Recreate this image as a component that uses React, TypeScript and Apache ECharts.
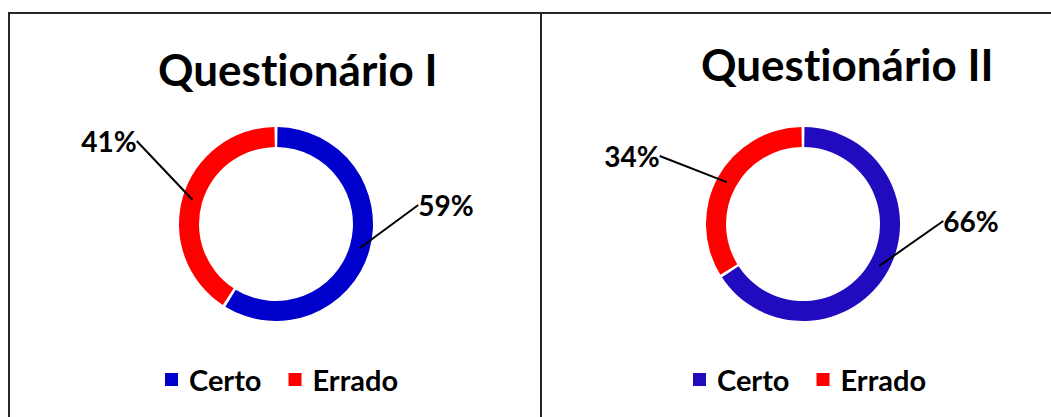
import React, { useEffect, useRef } from "react";
import * as echarts from "echarts";

const categories = ["Certo", "Errado"];
const titles = ["Questionário I", "Questionário II"];
const valuesI = [59, 41];
const valuesII = [66, 34];
const colorsI = ["#0000CC", "#FF0000"];
const colorsII = ["#200CBE", "#FF0000"];

const FONT = "Lato";
const centers = [
  [276, 224],
  [803, 224],
];
// label anchor positions (layout only)
const labelPos = [
  [
    [446, 205],
    [109, 141],
  ],
  [
    [971, 221],
    [632, 156],
  ],
];

export default function App() {
  const ref = useRef<HTMLDivElement>(null);
  useEffect(() => {
    const chart = echarts.init(ref.current!, null, { renderer: "svg" });
    const sets = [
      { values: valuesI, colors: colorsI },
      { values: valuesII, colors: colorsII },
    ];
    const series: any[] = [];
    sets.forEach((s, i) => {
      const data = categories.map((c, k) => ({
        name: c,
        value: s.values[k],
        itemStyle: { color: s.colors[k] },
      }));
      series.push({
        type: "pie",
        center: centers[i],
        radius: [77, 97],
        startAngle: 90,
        clockwise: true,
        padAngle: 1.8,
        silent: true,
        z: 2,
        label: { show: false },
        labelLine: { show: false },
        data,
      });
      series.push({
        type: "pie",
        center: centers[i],
        radius: [0, 87],
        startAngle: 90,
        clockwise: true,
        silent: true,
        z: 5,
        itemStyle: { color: "rgba(0,0,0,0)" },
        label: {
          show: true,
          position: "outside",
          formatter: "{c}%",
          fontFamily: FONT,
          fontWeight: "bold",
          fontSize: 28,
          color: "#000",
        },
        labelLine: {
          show: true,
          length: 10,
          length2: 0,
          lineStyle: { color: "#000", width: 2 },
        },
        labelLayout: (p: any) => {
          const pos = labelPos[i][p.dataIndex];
          return { x: pos[0], y: pos[1], align: "center", verticalAlign: "middle" };
        },
        data: data.map((d) => ({ name: d.name, value: d.value, itemStyle: { color: "rgba(0,0,0,0)" } })),
      });
    });

    const legendText = {
      fontFamily: FONT,
      fontWeight: "bold",
      fontSize: 29,
      color: "#000",
      padding: [0, 0, 0, 6],
    };

    chart.setOption({
      animation: false,
      backgroundColor: "#fff",
      title: [
        {
          text: titles[0],
          left: 153,
          top: 42,
          textStyle: { fontFamily: FONT, fontWeight: "bold", fontSize: 44, color: "#000" },
        },
        {
          text: titles[1],
          left: 696,
          top: 37,
          textStyle: { fontFamily: FONT, fontWeight: "bold", fontSize: 44, color: "#000" },
        },
      ],
      legend: [
        {
          left: 165,
          top: 365,
          padding: 0,
          itemWidth: 13,
          itemHeight: 13,
          itemGap: 27,
          icon: "rect",
          selectedMode: false,
          textStyle: legendText,
          data: categories.map((c, k) => ({ name: c, itemStyle: { color: colorsI[k] } })),
        },
        {
          left: 693,
          top: 365,
          padding: 0,
          itemWidth: 13,
          itemHeight: 13,
          itemGap: 27,
          icon: "rect",
          selectedMode: false,
          textStyle: legendText,
          data: categories.map((c, k) => ({ name: c, itemStyle: { color: colorsII[k] } })),
        },
      ],
      graphic: [
        { type: "line", shape: { x1: 8, y1: 13, x2: 1051, y2: 13 }, style: { stroke: "#262626", lineWidth: 2 } },
        { type: "line", shape: { x1: 9, y1: 13, x2: 9, y2: 417 }, style: { stroke: "#262626", lineWidth: 2 } },
        { type: "line", shape: { x1: 541, y1: 13, x2: 541, y2: 417 }, style: { stroke: "#262626", lineWidth: 2 } },
      ],
      series,
    });
    return () => chart.dispose();
  }, []);
  return (
    <div
      ref={ref}
      style={{
        position: "absolute",
        left: 0,
        top: 0,
        width: 1051,
        height: 417,
        fontFeatureSettings: '"liga" 0, "clig" 0, "dlig" 0',
      }}
    />
  );
}
